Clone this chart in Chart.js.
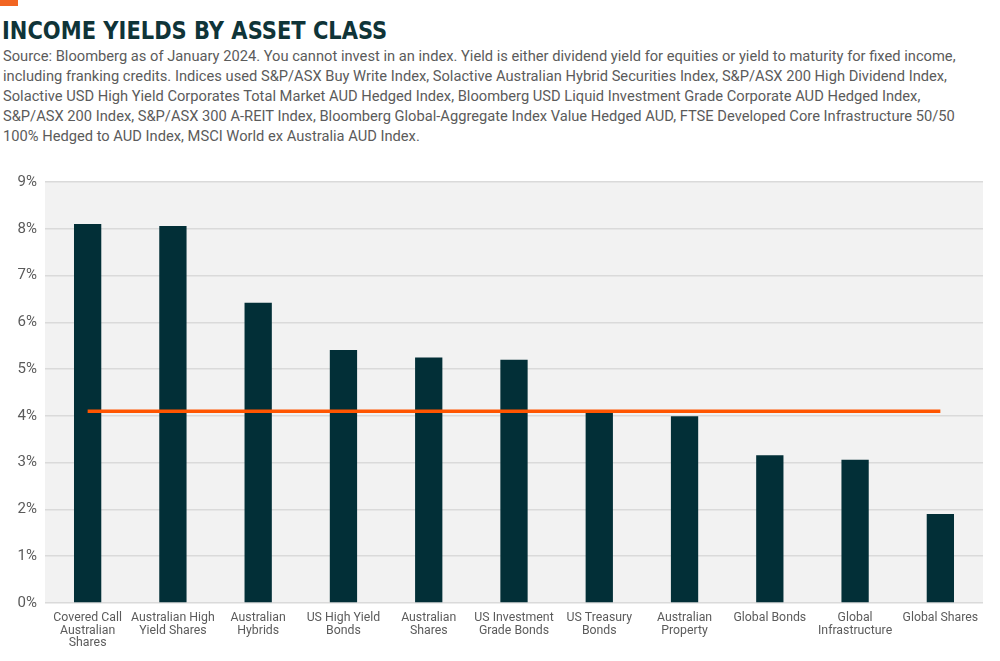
<!DOCTYPE html>
<html>
<head>
<meta charset="utf-8">
<script src="https://cdn.jsdelivr.net/npm/chart.js@4"></script>
<style>
  body { margin: 0; background: #fff; width: 1000px; height: 661px; position: relative; overflow: hidden; font-family: Roboto, "Noto Sans", sans-serif; }
  #mark { position: absolute; left: 0; top: 0; width: 18px; height: 6px; background: #f26522; }
  #title { position: absolute; left: 2px; top: 16px; line-height: 30px; font-family: "DejaVu Sans Condensed", Roboto, sans-serif; font-weight: bold; font-size: 25px; color: #0f3438; white-space: nowrap; transform-origin: 0 0; transform: scaleX(0.935); }
  #sub { position: absolute; left: 3px; top: 46px; font-size: 14.7px; line-height: 20px; color: #5b5b5b; white-space: nowrap; }
  #wrap { position: absolute; left: 0; top: 165px; width: 1000px; height: 496px; }
</style>
</head>
<body>
<div id="mark"></div>
<div id="title">INCOME YIELDS BY ASSET CLASS</div>
<div id="sub">Source: Bloomberg as of January 2024. You cannot invest in an index. Yield is either dividend yield for equities or yield to maturity for fixed income,<br>including franking credits. Indices used S&amp;P/ASX Buy Write Index, Solactive Australian Hybrid Securities Index, S&amp;P/ASX 200 High Dividend Index,<br>Solactive USD High Yield Corporates Total Market AUD Hedged Index, Bloomberg USD Liquid Investment Grade Corporate AUD Hedged Index,<br>S&amp;P/ASX 200 Index, S&amp;P/ASX 300 A-REIT Index, Bloomberg Global-Aggregate Index Value Hedged AUD, FTSE Developed Core Infrastructure 50/50<br>100% Hedged to AUD Index, MSCI World ex Australia AUD Index.</div>
<div id="wrap"><canvas id="chart"></canvas></div>
<script>
const categories = [
  ["Covered Call", "Australian", "Shares"],
  ["Australian High", "Yield Shares"],
  ["Australian", "Hybrids"],
  ["US High Yield", "Bonds"],
  ["Australian", "Shares"],
  ["US Investment", "Grade Bonds"],
  ["US Treasury", "Bonds"],
  ["Australian", "Property"],
  ["Global Bonds"],
  ["Global", "Infrastructure"],
  ["Global Shares"]
];
const yields = [8.1, 8.06, 6.42, 5.41, 5.25, 5.2, 4.08, 3.99, 3.16, 3.06, 1.9];
const average = [4.1, 4.1, 4.1, 4.1, 4.1, 4.1, 4.1, 4.1, 4.1, 4.1, 4.1];
const yTicks = [0, 1, 2, 3, 4, 5, 6, 7, 8, 9];

// light grey panel behind the plot
const plotBg = {
  id: "plotBg",
  beforeDraw(chart) {
    const a = chart.chartArea;
    const ctx = chart.ctx;
    ctx.save();
    ctx.fillStyle = "#f2f2f2";
    ctx.fillRect(a.left, a.top, a.right - a.left, a.bottom - a.top);
    ctx.restore();
  }
};

const ctx = document.getElementById("chart").getContext("2d");
new Chart(ctx, {
  type: "bar",
  data: {
    labels: categories,
    datasets: [
      {
        type: "line",
        label: "Average",
        data: average,
        borderColor: "#ff5500",
        borderWidth: 3.5,
        pointRadius: 0,
        order: 0
      },
      {
        label: "Yield",
        data: yields,
        backgroundColor: "#022f37",
        borderWidth: 0,
        barPercentage: 0.32,
        categoryPercentage: 1,
        order: 1
      }
    ]
  },
  options: {
    responsive: true,
    maintainAspectRatio: false,
    animation: false,
    layout: { padding: { top: 16, right: 17, left: 0, bottom: 0 } },
    plugins: { legend: { display: false }, tooltip: { enabled: false } },
    scales: {
      x: {
        grid: { display: false },
        border: { display: false },
        ticks: {
          color: "#5b5b5b",
          font: { family: "Roboto", size: 12.3, lineHeight: 1.02 },
          maxRotation: 0,
          autoSkip: false,
          padding: 1
        },
        afterFit(scale) { scale.height = 58; }
      },
      y: {
        min: 0,
        max: 9,
        afterBuildTicks(scale) { scale.ticks = yTicks.map(v => ({ value: v })); },
        grid: { color: "#dadada", lineWidth: 1.5, drawTicks: false },
        border: { display: false },
        ticks: {
          color: "#5b5b5b",
          font: { family: "Roboto", size: 15 },
          padding: 8,
          callback: v => v + "%"
        },
        afterFit(scale) { scale.width = 45; }
      }
    }
  },
  plugins: [plotBg]
});
</script>
</body>
</html>
